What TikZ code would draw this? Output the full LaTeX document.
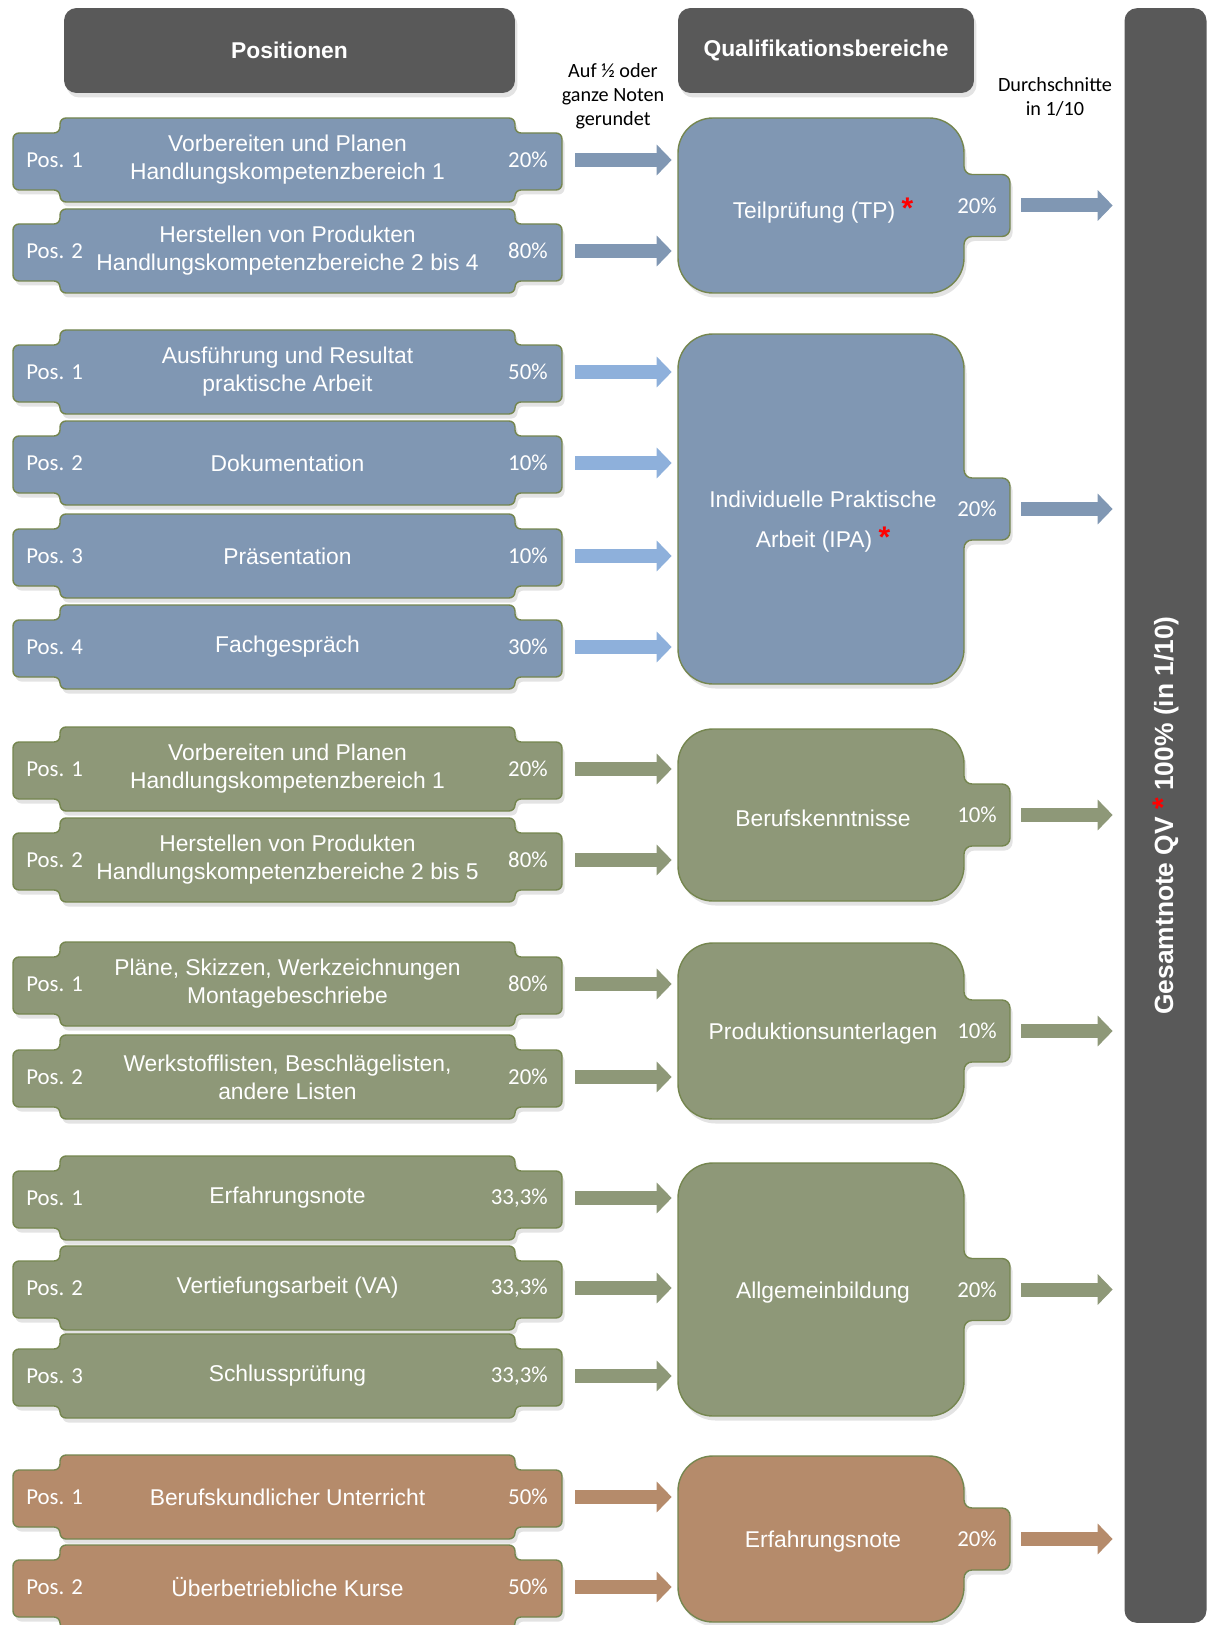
\documentclass[tikz,border=0pt]{standalone}
\usepackage{fontspec}
\setmainfont{Liberation Sans}
\newfontfamily\calib{Carlito}
\usepackage{xcolor}
\usepackage{tikz}
\usetikzlibrary{arrows.meta,shadows}
\definecolor{boxblue}{HTML}{8097B3}
\definecolor{arrowblue}{HTML}{8EB0DB}
\definecolor{boxgreen}{HTML}{8E9878}
\definecolor{boxbrown}{HTML}{B58B6B}
\definecolor{edge}{HTML}{75864F}
\definecolor{headgray}{HTML}{595959}
\tikzset{
  softshadow/.style={drop shadow={opacity=0.22, shadow xshift=0.05cm, shadow yshift=-0.09cm}},
  posline/.style={draw=edge, line width=0.8pt, rounded corners=0.12cm, softshadow},
  qbline/.style={draw=edge, line width=0.8pt, softshadow},
  head/.style={fill=headgray, rounded corners=0.25cm, minimum height=1.7cm, text=white,
    font=\bfseries\fontsize{13}{16}\selectfont, softshadow},
  bar/.style={fill=headgray, rounded corners=0.25cm, minimum width=1.64cm, minimum height=32.3cm},
  bartxt/.style={text=white, font=\bfseries\fontsize{15}{18}\selectfont},
  postxt/.style={text=white, align=center, font=\fontsize{13}{15.9}\selectfont},
  nrtxt/.style={text=white, font=\calib\fontsize{13}{15}\selectfont, inner sep=0pt},
  qbtxt/.style={text=white, align=center, font=\fontsize{13}{22.7}\selectfont},
  note/.style={align=center, text=black, font=\calib\fontsize{11.5}{13.6}\selectfont},
  bigarrow/.style={line width=0.28cm, -{Triangle[length=0.3cm,width=0.6cm]}},
}
\newcommand\redstar{{\color{red}\bfseries\fontsize{17}{17}\selectfont *}}
% position box: name, y centre, fill, Pos., text, share
\newcommand\posbox[6]{%
  \draw[posline, fill=#3] (60,{-(#2-42)}) -- (515,{-(#2-42)}) -- (515,{-(#2-27)})
    -- (562,{-(#2-27)}) -- (562,{-(#2+30)}) -- (515,{-(#2+30)}) -- (515,{-(#2+42)})
    -- (60,{-(#2+42)}) -- (60,{-(#2+30)}) -- (13,{-(#2+30)}) -- (13,{-(#2-27)})
    -- (60,{-(#2-27)}) -- cycle;
  \node[postxt] (#1) at (287.5,-#2) {#5};
  \node[nrtxt, anchor=west] (#1-nr) at (26,-#2) {#4};
  \node[nrtxt, anchor=east] (#1-pct) at (548,-#2) {#6};
  \coordinate (#1-in) at (575,-#2);
}
% qualification box: [text offset] name, top, bottom, fill, text, share
\newcommand\qbbox[7][3]{%
  \pgfmathsetmacro\qc{(#3+#4)/2}
  \draw[qbline, fill=#5] (713,-#3) -- (929,-#3) arc[start angle=90,end angle=0,radius=35]
    -- (964,{-(\qc-39)}) arc[start angle=180,end angle=270,radius=8]
    -- (1002,{-(\qc-31)}) arc[start angle=90,end angle=0,radius=8]
    -- (1010,{-(\qc+23)}) arc[start angle=0,end angle=-90,radius=8]
    -- (972,{-(\qc+31)}) arc[start angle=90,end angle=180,radius=8]
    -- (964,{-(#4-35)}) arc[start angle=0,end angle=-90,radius=35]
    -- (713,-#4) arc[start angle=270,end angle=180,radius=35]
    -- (678,{-(#3+35)}) arc[start angle=180,end angle=90,radius=35] -- cycle;
  \node[qbtxt, minimum width=5.72cm] (#2) at (823,{-(\qc+#1)}) {#6};
  \node[nrtxt] (#2-pct) at (977,-\qc) {#7};
  \coordinate (#2-out) at (1021,-\qc);
}
\begin{document}
\begin{tikzpicture}[x=0.02cm, y=0.02cm]
  \useasboundingbox (0,0) rectangle (1207,-1625);
  % headings
  \node[head, minimum width=9.02cm] (hpos) at (289.5,-50.5) {Positionen};
  \node[head, minimum width=5.92cm] (hqb) at (826,-50.5) {Qualifikationsbereiche};
  \node[note] (rund) at (613,-96) {Auf ½ oder\\ganze Noten\\gerundet};
  \node[note] (schnitt) at (1055,-97) {Durchschnitte\\in 1/10};
  % total
  \node[bar] (qv) at (1165.5,-815.5) {};
  \node[bartxt, rotate=90] (qvtxt) at (qv.center) {Gesamtnote QV \redstar{} 100\% (in 1/10)};
  % Teilpruefung
  \posbox{tp1}{160}{boxblue}{Pos. 1}{Vorbereiten und Planen\\Handlungskompetenzbereich 1}{20\%}
  \posbox{tp2}{251}{boxblue}{Pos. 2}{Herstellen von Produkten\\Handlungskompetenzbereiche 2 bis 4}{80\%}
  \qbbox[5]{tp}{118}{293}{boxblue}{Teilprüfung (TP) \redstar}{20\%}
  % IPA
  \posbox{ipa1}{372}{boxblue}{Pos. 1}{Ausführung und Resultat\\praktische Arbeit}{50\%}
  \posbox{ipa2}{463}{boxblue}{Pos. 2}{Dokumentation}{10\%}
  \posbox{ipa3}{556}{boxblue}{Pos. 3}{Präsentation}{10\%}
  \posbox{ipa4}{647}{boxblue}{Pos. 4}{Fachgespräch}{30\%}
  \qbbox[13]{ipa}{334}{684}{boxblue}{Individuelle Praktische\\Arbeit (IPA) \redstar}{20\%}
  % Berufskenntnisse
  \posbox{bk1}{769}{boxgreen}{Pos. 1}{Vorbereiten und Planen\\Handlungskompetenzbereich 1}{20\%}
  \posbox{bk2}{860}{boxgreen}{Pos. 2}{Herstellen von Produkten\\Handlungskompetenzbereiche 2 bis 5}{80\%}
  \qbbox{bk}{729}{901}{boxgreen}{Berufskenntnisse}{10\%}
  % Produktionsunterlagen
  \posbox{pu1}{984}{boxgreen}{Pos. 1}{Pläne, Skizzen, Werkzeichnungen\\Montagebeschriebe}{80\%}
  \posbox{pu2}{1077}{boxgreen}{Pos. 2}{Werkstofflisten, Beschlägelisten,\\andere Listen}{20\%}
  \qbbox{pu}{943}{1119}{boxgreen}{Produktionsunterlagen}{10\%}
  % Allgemeinbildung
  \posbox{ab1}{1198}{boxgreen}{Pos. 1}{Erfahrungsnote}{33,3\%}
  \posbox{ab2}{1288}{boxgreen}{Pos. 2}{Vertiefungsarbeit (VA)}{33,3\%}
  \posbox{ab3}{1376}{boxgreen}{Pos. 3}{Schlussprüfung}{33,3\%}
  \qbbox{ab}{1163}{1416}{boxgreen}{Allgemeinbildung}{20\%}
  % Erfahrungsnote
  \posbox{en1}{1497}{boxbrown}{Pos. 1}{Berufskundlicher Unterricht}{50\%}
  \posbox{en2}{1587}{boxbrown}{Pos. 2}{Überbetriebliche Kurse}{50\%}
  \qbbox{en}{1456}{1622}{boxbrown}{Erfahrungsnote}{20\%}
  % arrows
  \foreach \p/\q/\c in {tp1/tp/boxblue, tp2/tp/boxblue, ipa1/ipa/arrowblue, ipa2/ipa/arrowblue,
      ipa3/ipa/arrowblue, ipa4/ipa/arrowblue, bk1/bk/boxgreen, bk2/bk/boxgreen, pu1/pu/boxgreen,
      pu2/pu/boxgreen, ab1/ab/boxgreen, ab2/ab/boxgreen, ab3/ab/boxgreen, en1/en/boxbrown, en2/en/boxbrown}
    \draw[bigarrow, color=\c] (\p-in) -- ([xshift=-0.16cm]\q.west |- \p-in);
  \foreach \q/\c in {tp/boxblue, ipa/boxblue, bk/boxgreen, pu/boxgreen, ab/boxgreen, en/boxbrown}
    \draw[bigarrow, color=\c] (\q-out) -- ([xshift=-0.23cm]qv.west |- \q-out);
\end{tikzpicture}
\end{document}
